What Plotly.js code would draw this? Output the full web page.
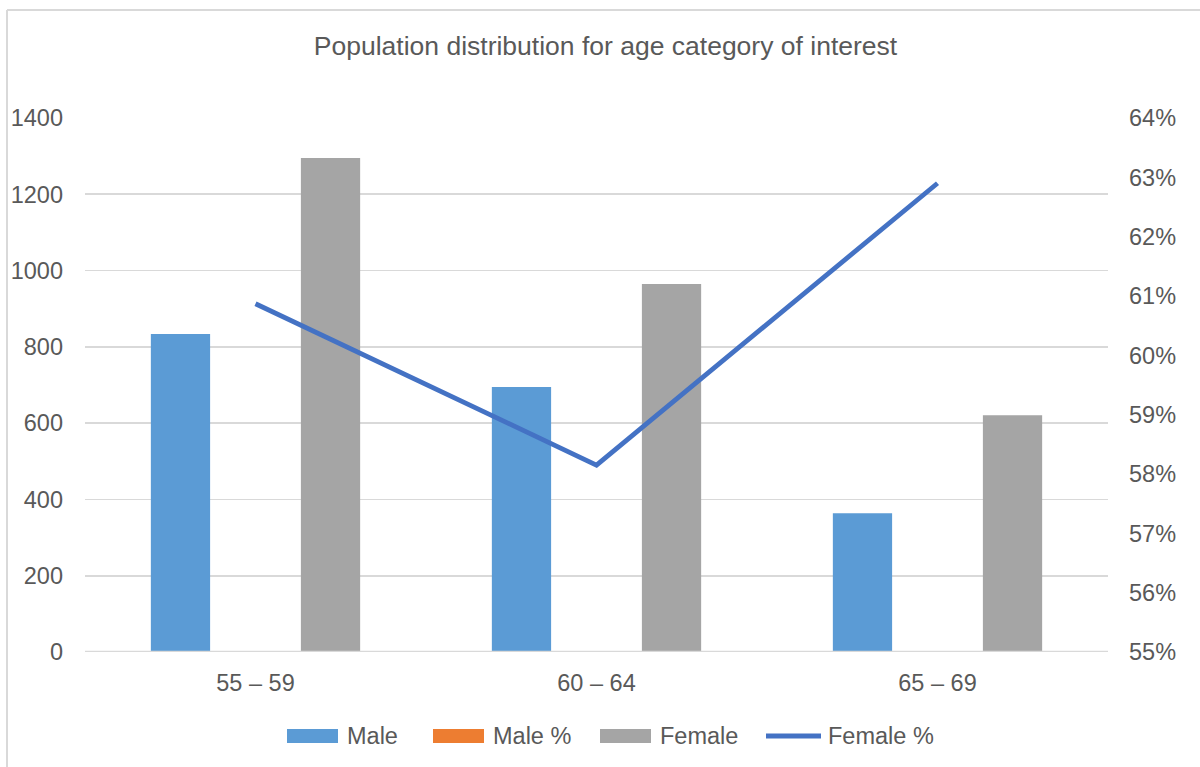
<!DOCTYPE html>
<html>
<head>
<meta charset="utf-8">
<script src="https://cdn.plot.ly/plotly-3.0.1.min.js"></script>
<style>
  html, body { margin: 0; padding: 0; background: #fff; }
  #chart { width: 1200px; height: 767px; }
</style>
</head>
<body>
<div id="chart"></div>
<script>
const categories = ["55 – 59", "60 – 64", "65 – 69"];
const male = [834, 695, 364];
const malePct = [0.3913, 0.4185, 0.3710];
const female = [1295, 965, 621];
const femalePct = [0.6087, 0.5815, 0.6290];

const seriesNames = ["Male", "Male %", "Female", "Female %"];
const seriesColors = ["#5B9BD5", "#ED7D31", "#A5A5A5", "#4472C4"];

const textColor = "#595959";
const fontFamily = "Liberation Sans, Arial, sans-serif";
const fs = 23.5;

const traces = [
  { type: "bar", name: seriesNames[0], x: categories, y: male,
    marker: { color: seriesColors[0], line: { width: 0 } }, yaxis: "y" },
  { type: "bar", name: seriesNames[1], x: categories, y: malePct,
    marker: { color: seriesColors[1], line: { width: 0 } }, yaxis: "y" },
  { type: "bar", name: seriesNames[2], x: categories, y: female,
    marker: { color: seriesColors[2], line: { width: 0 } }, yaxis: "y" },
  { type: "scatter", mode: "lines", name: seriesNames[3], x: categories, y: femalePct,
    line: { color: seriesColors[3], width: 4.8 }, yaxis: "y2" }
];

// plot area geometry (pixels) used to place the Excel-style legend
const L = 85, R = 1108, T = 118, B = 652;
const px = v => (v - L) / (R - L);
const py = v => (B - v) / (B - T);

const legendY = 736;
const legendItems = [
  { box: [287, 338], text: 345, kind: "box" },
  { box: [433, 484], text: 491, kind: "box" },
  { box: [600, 651], text: 658, kind: "box" },
  { box: [766, 821], text: 826, kind: "line" }
];

const shapes = [
  { type: "line", xref: "paper", yref: "y", x0: 0, x1: 1, y0: 0, y1: 0, layer: "above",
    line: { color: "#d9d9d9", width: 2.5 } },
  { type: "line", xref: "paper", yref: "paper", x0: px(7), x1: px(1200), y0: py(10), y1: py(10),
    line: { color: "#d9d9d9", width: 2 } },
  { type: "line", xref: "paper", yref: "paper", x0: px(7), x1: px(7), y0: py(10), y1: py(767),
    line: { color: "#d9d9d9", width: 2 } }
];
const annotations = [];
legendItems.forEach((it, i) => {
  if (it.kind === "box") {
    shapes.push({ type: "rect", xref: "paper", yref: "paper",
      x0: px(it.box[0]), x1: px(it.box[1]), y0: py(legendY + 7), y1: py(legendY - 7),
      fillcolor: seriesColors[i], line: { width: 0 } });
  } else {
    shapes.push({ type: "line", xref: "paper", yref: "paper",
      x0: px(it.box[0]), x1: px(it.box[1]), y0: py(legendY), y1: py(legendY),
      line: { color: seriesColors[i], width: 5 } });
  }
  annotations.push({ xref: "paper", yref: "paper", x: px(it.text), y: py(legendY),
    xanchor: "left", yanchor: "middle", showarrow: false, text: seriesNames[i],
    font: { size: fs, color: textColor, family: fontFamily } });
});

const layout = {
  width: 1200, height: 767,
  margin: { l: 85, r: 92, t: 118, b: 115, autoexpand: false },
  paper_bgcolor: "#ffffff", plot_bgcolor: "#ffffff",
  font: { family: fontFamily, color: textColor, size: fs },
  title: { text: "Population distribution for age category of interest",
           font: { size: 26.5, color: textColor, family: fontFamily },
           x: px(605.5), xref: "paper", xanchor: "center", y: 0.94, yanchor: "middle" },
  barmode: "group",
  bargap: 0.34,
  bargroupgap: 0.21,
  xaxis: { type: "category", showgrid: false, zeroline: false, showline: false,
           ticks: "", tickfont: { size: fs, color: textColor }, ticklabelstandoff: 14 },
  yaxis: { range: [0, 1400], dtick: 200, showgrid: true, gridcolor: "#d9d9d9", gridwidth: 1.6,
           zeroline: false, showline: false,
           ticks: "", tickfont: { size: fs, color: textColor }, ticklabelstandoff: 21 },
  yaxis2: { overlaying: "y", side: "right", range: [0.55, 0.64], dtick: 0.01, tickformat: ".0%",
            showgrid: false, zeroline: false, showline: false, ticks: "",
            tickfont: { size: fs, color: textColor }, ticklabelstandoff: 20 },
  showlegend: false,
  shapes: shapes,
  annotations: annotations
};

Plotly.newPlot("chart", traces, layout, { displayModeBar: false, staticPlot: true });
</script>
</body>
</html>
